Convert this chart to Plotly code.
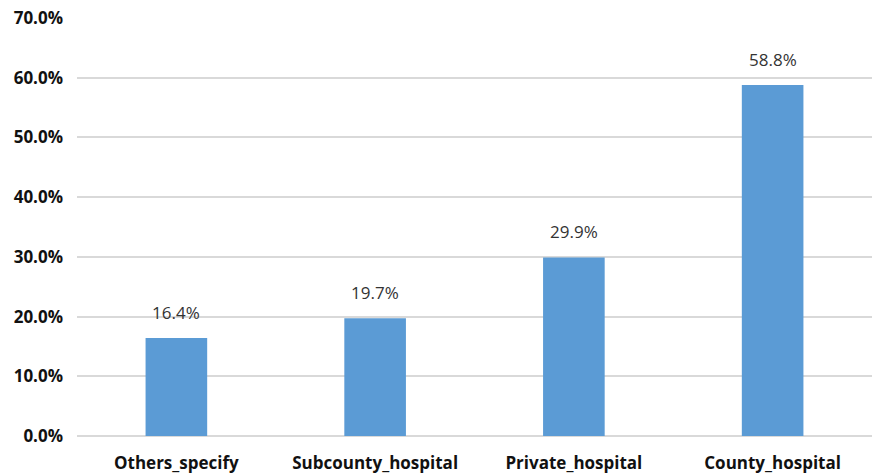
import plotly.graph_objects as go

categories = ["Others_specify", "Subcounty_hospital", "Private_hospital", "County_hospital"]
values = [16.4, 19.7, 29.9, 58.8]
y_ticks = [0, 10, 20, 30, 40, 50, 60, 70]
y_tick_labels = [f"{t:.1f}%" for t in y_ticks]

bar_color = "#5b9bd5"
grid_color = "#d9d9d9"
font_family = "Open Sans, Noto Sans, sans-serif"

fig = go.Figure(
    go.Bar(
        x=categories,
        y=values,
        marker=dict(color=bar_color, line=dict(width=0)),
        width=0.31,
        hoverinfo="skip",
    )
)

# value labels above each bar
for cat, val in zip(categories, values):
    fig.add_annotation(
        x=cat,
        y=val,
        text=f"{val:.1f}%",
        showarrow=False,
        yanchor="bottom",
        yshift=12,
        font=dict(family=font_family, size=17, color="#333333"),
    )

fig.update_layout(
    width=873,
    height=475,
    margin=dict(l=77, r=1, t=18, b=39),
    paper_bgcolor="white",
    plot_bgcolor="white",
    showlegend=False,
    bargap=0.69,
    font=dict(family=font_family),
)

fig.update_xaxes(
    showgrid=False,
    showline=False,
    zeroline=False,
    ticks="",
    ticklabelstandoff=15,
    tickfont=dict(family=font_family, size=17, color="#111111", weight="bold"),
)

fig.update_yaxes(
    range=[0, 70],
    tickvals=y_ticks,
    ticktext=y_tick_labels,
    showgrid=True,
    gridcolor=grid_color,
    gridwidth=2,
    zeroline=True,
    zerolinecolor=grid_color,
    zerolinewidth=2,
    showline=False,
    ticks="",
    ticklabelstandoff=13,
    tickfont=dict(family=font_family, size=17, color="#111111", weight="bold"),
)

fig.write_html("out.html")
